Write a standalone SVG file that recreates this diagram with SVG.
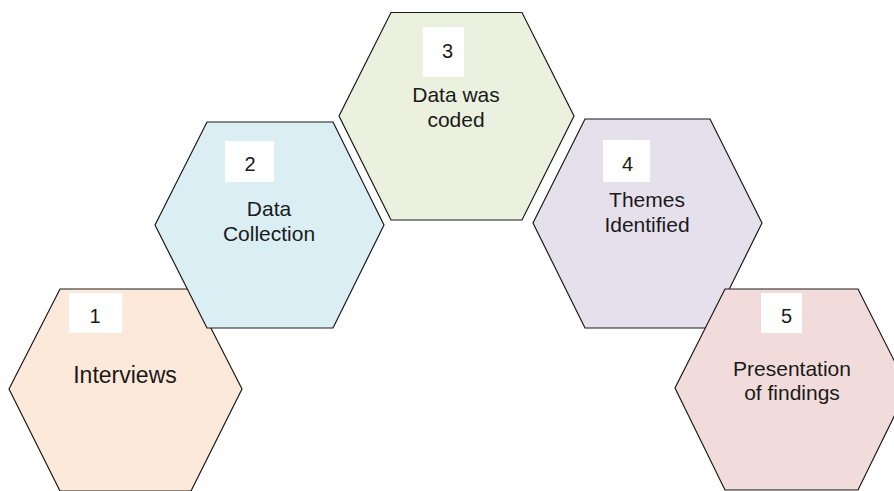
<svg xmlns="http://www.w3.org/2000/svg" width="894" height="491" viewBox="0 0 894 491">
<style>
.hex{stroke:#1a1a1a;stroke-width:1.2;stroke-linejoin:miter}
.box{fill:#ffffff}
.num{font-family:"Liberation Sans",Arial,sans-serif;font-size:20px;fill:#1a1a1a;text-anchor:middle}
.lbl{font-family:"Liberation Sans",Arial,sans-serif;font-size:21px;fill:#1a1a1a;text-anchor:middle}
</style>
<rect width="894" height="491" fill="#ffffff"/>
<g id="connectors"></g>
<g id="node1">
<polygon class="hex" fill="#FDE9D9" points="9,389 60,289 191,289 242,389 191,491 60,491"/>
<rect class="box" x="69" y="293" width="53" height="40"/>
<text class="num" x="95" y="322.5">1</text>
<text class="lbl" x="125" y="383" style="font-size:23px">Interviews</text>
</g>
<g id="node2">
<polygon class="hex" fill="#DBEEF4" points="155,225 207,122 333,122 384,225 333,328 207,328"/>
<rect class="box" x="225" y="141" width="49" height="41"/>
<text class="num" x="250" y="170.5">2</text>
<text class="lbl" x="269" y="215.5">Data</text>
<text class="lbl" x="269" y="240.5">Collection</text>
</g>
<g id="node3">
<polygon class="hex" fill="#EBF1DE" points="339,116 391,12.5 522,12.5 574,116 522,220 391,220"/>
<rect class="box" x="423" y="27" width="41" height="50"/>
<text class="num" x="447.5" y="58">3</text>
<text class="lbl" x="456" y="101.5">Data was</text>
<text class="lbl" x="456" y="126.5">coded</text>
</g>
<g id="node4">
<polygon class="hex" fill="#E5E0EC" points="533,223 585,119 710,119 762,223 710,328 585,328"/>
<rect class="box" x="603" y="140" width="47" height="42"/>
<text class="num" x="627.5" y="171">4</text>
<text class="lbl" x="647" y="206.5">Themes</text>
<text class="lbl" x="647" y="231.5">Identified</text>
</g>
<g id="node5">
<polygon class="hex" fill="#F2DCDB" points="675,388 725,289 858,289 908,388 858,490 725,490"/>
<rect class="box" x="761" y="293" width="41" height="40"/>
<text class="num" x="786.5" y="322.5">5</text>
<text class="lbl" x="792" y="375.5">Presentation</text>
<text class="lbl" x="792" y="399.5">of findings</text>
</g>
</svg>
